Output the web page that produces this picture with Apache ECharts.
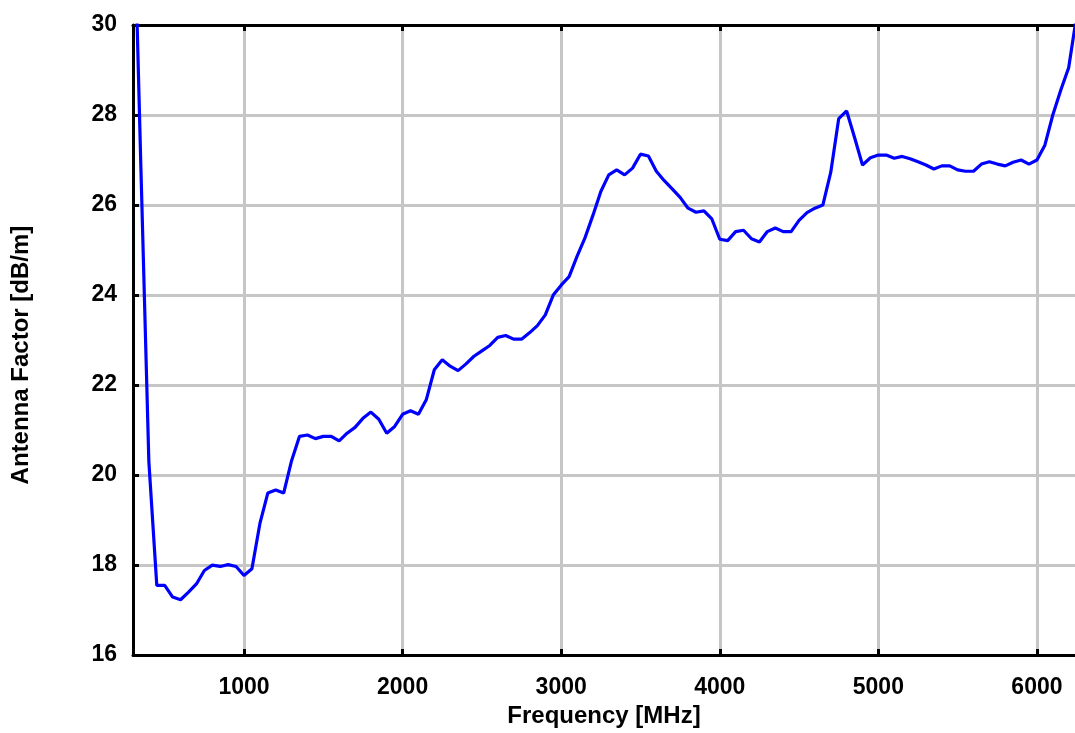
<!DOCTYPE html>
<html>
<head>
<meta charset="utf-8">
<script src="https://cdn.jsdelivr.net/npm/echarts@6/dist/echarts.min.js"></script>
<style>
  html, body { margin: 0; padding: 0; background: #fff; }
  #chart { width: 1075px; height: 733px; }
</style>
</head>
<body>
<div id="chart"></div>
<script>
// frequency points (MHz) and antenna factor (dB/m)
const freq = [
  300, 350, 400, 450, 500, 550, 600, 650, 700, 750,
  800, 850, 900, 950, 1000, 1050, 1100, 1150, 1200, 1250,
  1300, 1350, 1400, 1450, 1500, 1550, 1600, 1650, 1700, 1750,
  1800, 1850, 1900, 1950, 2000, 2050, 2100, 2150, 2200, 2250,
  2300, 2350, 2400, 2450, 2500, 2550, 2600, 2650, 2700, 2750,
  2800, 2850, 2900, 2950, 3000, 3050, 3100, 3150, 3200, 3250,
  3300, 3350, 3400, 3450, 3500, 3550, 3600, 3650, 3700, 3750,
  3800, 3850, 3900, 3950, 4000, 4050, 4100, 4150, 4200, 4250,
  4300, 4350, 4400, 4450, 4500, 4550, 4600, 4650, 4700, 4750,
  4800, 4850, 4900, 4950, 5000, 5050, 5100, 5150, 5200, 5250,
  5300, 5350, 5400, 5450, 5500, 5550, 5600, 5650, 5700, 5750,
  5800, 5850, 5900, 5950, 6000, 6050, 6100, 6150, 6200, 6250
];
const antennaFactor = [
  33.5, 26.8, 20.3, 17.55, 17.55, 17.29, 17.23, 17.40, 17.58, 17.88,
  18.00, 17.97, 18.01, 17.97, 17.77, 17.92, 18.92, 19.60, 19.67, 19.60,
  20.32, 20.86, 20.89, 20.81, 20.86, 20.86, 20.76, 20.93, 21.06, 21.26,
  21.40, 21.24, 20.93, 21.08, 21.35, 21.43, 21.35, 21.68, 22.34, 22.56,
  22.42, 22.32, 22.47, 22.64, 22.76, 22.88, 23.06, 23.10, 23.02, 23.02,
  23.16, 23.32, 23.56, 24.00, 24.22, 24.41, 24.86, 25.27, 25.77, 26.30,
  26.67, 26.78, 26.67, 26.82, 27.13, 27.09, 26.75, 26.54, 26.36, 26.17,
  25.93, 25.84, 25.87, 25.69, 25.24, 25.21, 25.41, 25.44, 25.25, 25.18,
  25.41, 25.49, 25.41, 25.41, 25.66, 25.83, 25.93, 26.00, 26.73, 27.92,
  28.09, 27.50, 26.89, 27.05, 27.11, 27.11, 27.04, 27.08, 27.03, 26.96,
  26.89, 26.80, 26.87, 26.87, 26.78, 26.75, 26.75, 26.91, 26.96, 26.91,
  26.87, 26.95, 27.00, 26.91, 27.00, 27.33, 28.00, 28.55, 29.05, 30.2
];
const xTicks = [1000, 2000, 3000, 4000, 5000, 6000];

const chart = echarts.init(document.getElementById('chart'), null, { renderer: 'canvas' });

const font = "'Liberation Sans', Arial, sans-serif";
const axisLineStyle = { color: '#000', width: 3 };
const gridLineStyle = { color: '#c6c6c6', width: 3 };
const labelStyle = { fontFamily: font, fontWeight: 'bold', fontSize: 23, color: '#000' };

let option = {
  animation: false,
  backgroundColor: '#fff',
  grid: { left: 133, right: 0, top: 25, bottom: 74 },
  xAxis: [
    {
      type: 'value',
      position: 'bottom',
      min: 300,
      max: 6240,
      axisLine: { show: true, lineStyle: axisLineStyle },
      axisTick: { show: true, inside: true, length: 6, customValues: xTicks, lineStyle: axisLineStyle },
      axisLabel: Object.assign({
        customValues: xTicks,
        margin: 21,
        formatter: function (v) { return String(v); }, // no thousands separator
      }, labelStyle),
      splitLine: { show: true, lineStyle: gridLineStyle },
      name: 'Frequency [MHz]',
      nameLocation: 'middle',
      nameGap: 39,
      nameTextStyle: Object.assign({}, labelStyle, { fontSize: 24 }),
    },
    {
      type: 'value',
      position: 'top',
      min: 300,
      max: 6240,
      axisLine: { show: true, lineStyle: axisLineStyle },
      axisTick: { show: true, inside: true, length: 6, customValues: xTicks, lineStyle: axisLineStyle },
      axisLabel: { show: false },
      splitLine: { show: false },
    },
  ],
  yAxis: {
    type: 'value',
    min: 16,
    max: 30,
    interval: 2,
    axisLine: { show: true, lineStyle: axisLineStyle },
    axisTick: { show: true, inside: true, length: 6, lineStyle: axisLineStyle },
    axisLabel: Object.assign({ margin: 16 }, labelStyle),
    splitLine: { show: true, lineStyle: gridLineStyle },
    name: 'Antenna Factor [dB/m]',
    nameLocation: 'middle',
    nameGap: 100,
    // shift the rotated title a little lower, as in the original
    nameTextStyle: Object.assign({}, labelStyle, { fontSize: 24, padding: [0, 30, 0, 0] }),
  },
  series: [
    {
      type: 'line',
      xAxisIndex: 0,
      data: freq.map((f, i) => [f, antennaFactor[i]]),
      showSymbol: false,
      clip: true,
      lineStyle: { color: '#0000ff', width: 3.2 },
    },
  ],
};
chart.setOption(option);
</script>
</body>
</html>
